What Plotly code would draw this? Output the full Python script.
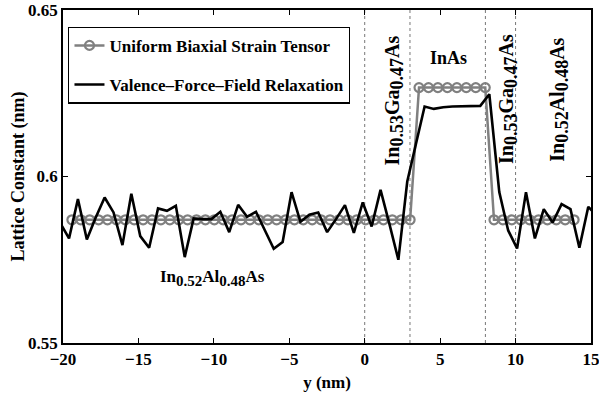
import plotly.graph_objects as go

# Uniform biaxial strain tensor (gray, circles)
ubs_x = [-19.41, -18.82, -18.23, -17.64, -17.05, -16.46, -15.87, -15.28, -14.69, -14.10,
         -13.51, -12.92, -12.33, -11.74, -11.15, -10.56, -9.97, -9.38, -8.79, -8.20,
         -7.61, -7.02, -6.43, -5.84, -5.25, -4.66, -4.07, -3.48, -2.89, -2.30,
         -1.71, -1.12, -0.53, 0.06, 0.65, 1.24, 1.83, 2.42, 3.01,
         3.60, 4.23, 4.85, 5.48, 6.11, 6.73, 7.36, 7.99,
         8.57, 9.16, 9.75, 10.34, 10.93, 11.52, 12.11, 12.70, 13.29, 13.88]
ubs_y = [0.587] * 39 + [0.6267] * 8 + [0.587] * 10

# Valence-force-field relaxation (black line)
vff_x = [-20.19, -19.60, -19.01, -18.42, -17.83, -17.24, -16.65, -16.06, -15.47, -14.88,
         -14.29, -13.70, -13.11, -12.52, -11.93, -11.34, -10.75, -10.16, -9.57, -8.98,
         -8.39, -7.80, -7.21, -6.62, -6.03, -5.44, -4.85, -4.26, -3.67, -3.08,
         -2.49, -1.90, -1.31, -0.72, -0.13, 0.46, 1.05, 1.64, 2.23, 2.82,
         3.41, 3.97, 4.58, 5.20, 5.81, 6.43, 7.04, 7.66, 8.26, 8.92,
         9.51, 10.10, 10.69, 11.28, 11.87, 12.46, 13.05, 13.64, 14.23, 14.82, 15.41]
vff_y = [0.5861, 0.5814, 0.5932, 0.5811, 0.5877, 0.5937, 0.5892, 0.5794, 0.5948, 0.5821,
         0.5786, 0.5904, 0.5897, 0.5912, 0.5758, 0.5874, 0.5872, 0.5872, 0.5894, 0.5833,
         0.5915, 0.5879, 0.5894, 0.5836, 0.5783, 0.5803, 0.5953, 0.5864, 0.5885, 0.5892,
         0.5833, 0.5872, 0.5914, 0.5831, 0.5922, 0.5850, 0.5960, 0.5857, 0.5750, 0.5985,
         0.6104, 0.6210, 0.6203, 0.6208, 0.6210, 0.6210, 0.6210, 0.6212, 0.6247, 0.5953,
         0.5838, 0.5784, 0.5953, 0.5814, 0.5902, 0.5862, 0.5917, 0.5902, 0.5786, 0.5909, 0.5882]

interfaces = [0, 3, 8, 10]
x_ticks = [-20, -15, -10, -5, 0, 5, 10, 15]
x_ticktext = ["\u221220", "\u221215", "\u221210", "\u22125", "0", "5", "10", "15"]
y_ticks = [0.55, 0.6, 0.65]
y_ticktext = ["0.55", "0.6", "0.65"]

FONT = "Liberation Serif"


def chem(a, sa, b, sb, c, sub_px):
    s = '<span style="font-size:%dpx">' % sub_px
    return "<b>%s<sub>%s%s</span></sub>%s<sub>%s%s</span></sub>%s</b>" % (a, s, sa, b, s, sb, c)


fig = go.Figure()
fig.add_trace(go.Scatter(
    x=ubs_x, y=ubs_y, mode="lines+markers", name="<b>Uniform Biaxial Strain Tensor</b>",
    line=dict(color="#808080", width=2.5),
    marker=dict(symbol="circle-open", size=9, color="#808080", line=dict(width=2.2, color="#808080")),
    legendgroup="a"))
fig.add_trace(go.Scatter(
    x=vff_x, y=vff_y, mode="lines", name="<b>Valence\u2013Force\u2013Field Relaxation</b>",
    line=dict(color="black", width=2.6), legendgroup="b"))

for xv in interfaces:
    fig.add_shape(type="line", x0=xv, x1=xv, y0=0.55, y1=0.65, xref="x", yref="y",
                  line=dict(color="#777777", width=1, dash="dot"), layer="below")

rot_font = dict(family=FONT, size=20, color="black")
fig.add_annotation(x=5.55, y=0.6356, text="<b>InAs</b>", showarrow=False,
                   font=dict(family=FONT, size=18, color="black"))
fig.add_annotation(x=1.93, y=0.6228, text=chem("In", "0.53", "Ga", "0.47", "As", 18),
                   showarrow=False, textangle=-90, font=rot_font)
fig.add_annotation(x=9.5, y=0.6233, text=chem("In", "0.53", "Ga", "0.47", "As", 18),
                   showarrow=False, textangle=-90, font=rot_font)
fig.add_annotation(x=12.87, y=0.623, text=chem("In", "0.52", "Al", "0.48", "As", 18),
                   showarrow=False, textangle=-90, font=rot_font)
fig.add_annotation(x=-10.1, y=0.5695, text=chem("In", "0.52", "Al", "0.48", "As", 15),
                   showarrow=False, font=dict(family=FONT, size=17, color="black"))

# y-axis title placed in the left margin
fig.add_annotation(xref="paper", yref="paper", x=(18 - 63) / 528.0, y=0.5,
                   xanchor="center", yanchor="middle", textangle=-90, showarrow=False,
                   text="<b>Lattice Constant (nm)</b>",
                   font=dict(family=FONT, size=18, color="black"))

axis_common = dict(showline=True, linecolor="black", linewidth=1.5, mirror="ticks",
                   ticks="inside", ticklen=5, tickwidth=1, tickcolor="black",
                   showgrid=False, zeroline=False, automargin=False,
                   ticklabeloverflow="allow",
                   tickfont=dict(family=FONT, size=17, color="black"))

fig.update_xaxes(range=[-20, 15], tickvals=x_ticks, ticktext=["<b>%s</b>" % t for t in x_ticktext],
                 title=dict(text="<b>y (nm)</b>", font=dict(family=FONT, size=17, color="black"), standoff=8),
                 **axis_common)
fig.update_yaxes(range=[0.55, 0.65], tickvals=y_ticks, ticktext=["<b>%s</b>" % t for t in y_ticktext],
                 **axis_common)

fig.update_layout(
    width=599, height=398,
    margin=dict(l=63, r=8, t=10, b=55),
    paper_bgcolor="white", plot_bgcolor="white",
    showlegend=True,
    legend=dict(x=0.01, y=0.95, xanchor="left", yanchor="top",
                bordercolor="black", borderwidth=1.2, bgcolor="white",
                font=dict(family=FONT, size=17, color="black"),
                traceorder="grouped", tracegroupgap=14),
)

fig.write_html("out.html")
